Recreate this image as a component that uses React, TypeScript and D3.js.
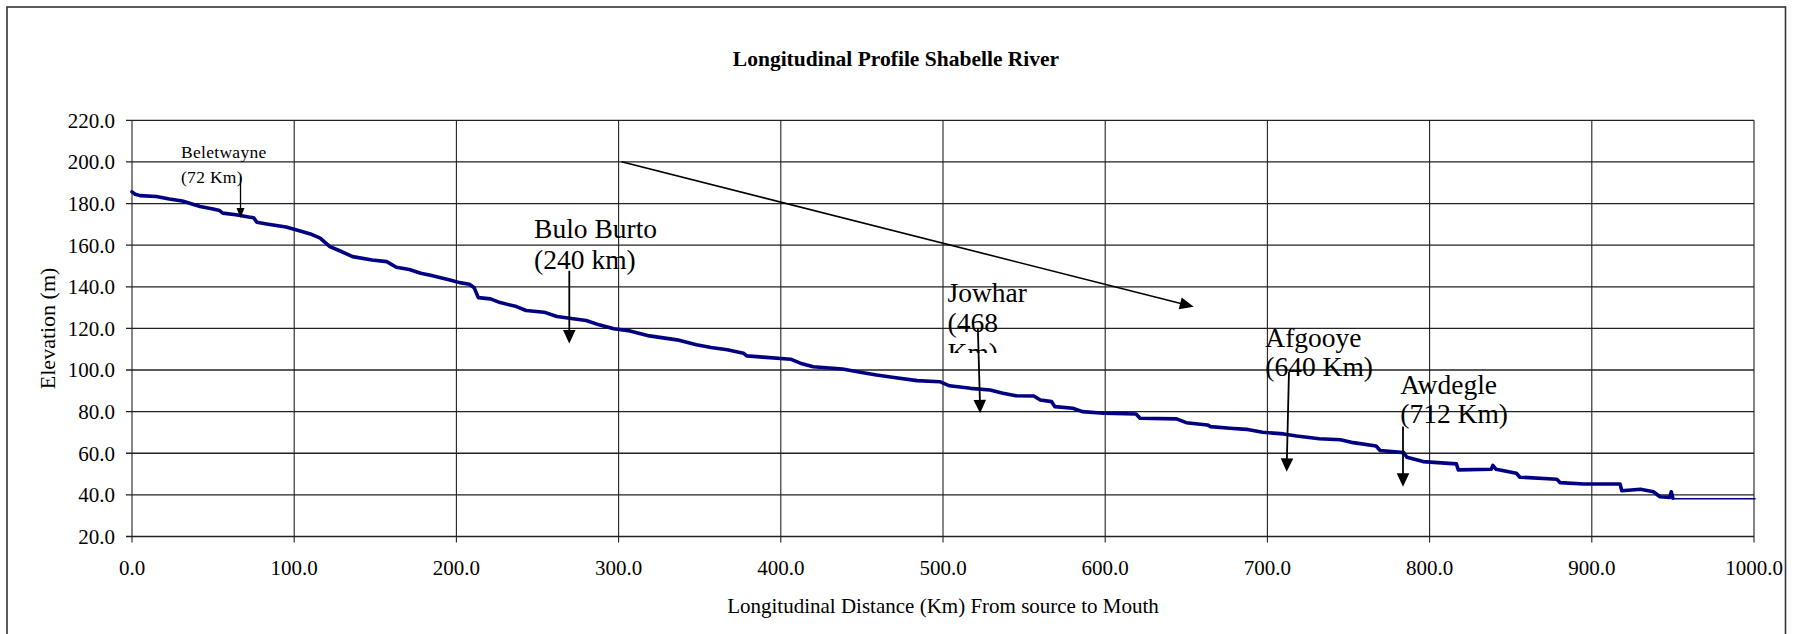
import React from "react";
import * as d3 from "d3";

// Longitudinal profile of the Shabelle River (km from source, elevation m)
const distanceKm = [
  0, 2, 5, 15, 23, 31, 36, 42, 50, 54, 56, 64, 72, 75, 77, 83, 95, 101, 110, 116,
  122, 128, 136, 148, 157, 163, 171, 178, 184, 196, 202, 208, 211, 213.5, 221, 227,
  237, 243, 254, 262, 272, 280, 288, 297, 307, 319, 336, 348, 357, 367, 377, 379,
  389, 406, 412, 420, 438, 449, 459, 471, 484, 498, 504, 517, 529, 537, 545, 556,
  560, 567, 569, 580, 586, 599, 619, 621.5, 644, 650, 663, 665, 677, 687, 697, 710,
  718, 732, 745, 753, 767, 769.5, 784, 786, 796, 816.5, 817.7, 838, 839, 841, 853.5,
  855.7, 878.4, 880.4, 895, 917.4, 918.5, 930, 938, 942, 948, 949, 950,
];
const elevationM = [
  185.6, 184.5, 183.8, 183.4, 182.2, 181.2, 180, 178.6, 177.4, 176.6, 175.4, 174.6,
  173.5, 173.2, 171, 170.2, 168.7, 167.4, 165.4, 163.4, 159.3, 157.3, 154.5, 152.9,
  152.1, 149.4, 148.3, 146.5, 145.5, 143.3, 142, 141.2, 139.5, 134.8, 134.2, 132.4,
  130.5, 128.6, 127.8, 125.7, 124.6, 123.8, 121.7, 119.8, 118.8, 116.4, 114.5, 112.1,
  110.8, 109.7, 108.1, 106.8, 106.2, 105.2, 103.3, 101.6, 100.5, 98.9, 97.6, 96.3,
  94.9, 94.4, 92.4, 91.2, 90.4, 88.8, 87.6, 87.5, 85.6, 84.8, 82.4, 81.6, 80, 79.2,
  78.9, 76.8, 76.5, 74.7, 73.6, 72.8, 72, 71.5, 70.1, 69.3, 68.3, 67, 66.5, 65.1,
  63.5, 61.3, 60.3, 58.1, 56, 54.9, 52, 52.3, 54.2, 52.3, 50.4, 48.5, 47.5, 45.9,
  45.2, 45.2, 42, 42.7, 41.5, 39.1, 38.8, 41.5, 38.4,
];
const tailDistanceKm = [950, 1001];
const tailElevationM = [38.2, 38.2];

const xTickValues = [0, 100, 200, 300, 400, 500, 600, 700, 800, 900, 1000];
const yTickValues = [20, 40, 60, 80, 100, 120, 140, 160, 180, 200, 220];

const chartTitle = "Longitudinal Profile Shabelle River";
const xAxisTitle = "Longitudinal Distance (Km) From source to Mouth";
const yAxisTitle = "Elevation (m)";

// Station labels (first-line anchor in data units)
const labelLines = [
  ["Beletwayne", "(72 Km)"],
  ["Bulo Burto", "(240 km)"],
  ["Jowhar", "(468", "Km)"],
  ["Afgooye", "(640 Km)"],
  ["Awdegle", "(712 Km)"],
];
const labelKm = [30.2, 247.9, 502.8, 698.7, 781.9];
const labelElev = [201.9, 163.4, 132.7, 111.1, 88.5];

// Station arrows (from -> to, data units)
const arrowFromKm = [66.9, 269.6, 521.5, 713.3, 783.6];
const arrowToKm = [66.9, 269.6, 522.9, 711.9, 783.6];
const arrowFromElev = [192.9, 147.7, 120.0, 99.2, 72.8];
const arrowToElev = [173.1, 112.8, 79.2, 51.1, 43.9];

// Trend arrow
const trendKm = [301.8, 654.6];
const trendElev = [200.1, 130.4];

const W = 1800;
const H = 634;
const FONT = "'Liberation Serif', 'Times New Roman', Times, serif";

function headPoints(x1: number, y1: number, x2: number, y2: number, len: number, half: number) {
  const a = Math.atan2(y2 - y1, x2 - x1);
  const bx = x2 - len * Math.cos(a);
  const by = y2 - len * Math.sin(a);
  const px = -Math.sin(a) * half;
  const py = Math.cos(a) * half;
  return `${x2},${y2} ${bx + px},${by + py} ${bx - px},${by - py}`;
}

export default function App() {
  const x = d3.scaleLinear().domain([0, 1000]).range([132, 1754]);
  const y = d3.scaleLinear().domain([20, 220]).range([536.5, 120.3]);
  const fmt = d3.format(".1f");
  const line = d3
    .line<[number, number]>()
    .x((d) => x(d[0]))
    .y((d) => y(d[1]));
  const profile: [number, number][] = distanceKm.map((d, i) => [d, elevationM[i]]);
  const tail: [number, number][] = tailDistanceKm.map((d, i) => [d, tailElevationM[i]]);

  const x0 = x(0);
  const x1 = x(1000);
  const yTop = y(220);
  const yBot = y(20);

  const labelSizes = [17.5, 27.5, 27.5, 27.5, 27.5];
  const labelGaps = [25, 31, 30, 29.5, 29];

  return (
    <>
      <style>{`body{margin:0;background:#fff}`}</style>
      <svg width={W} height={H} style={{ display: "block" }} fontFamily={FONT}>
        <rect x={0} y={0} width={W} height={H} fill="#fff" />
        <defs>
          <clipPath id="jowharClip">
            <rect x={930} y={260} width={120} height={93} />
          </clipPath>
        </defs>
        {/* outer frame */}
        <rect x={7} y={7} width={1778.5} height={H + 10} fill="none" stroke="#333" strokeWidth={1.6} />

        {/* title */}
        <text x={(x0 + x1) / 2 - 47} y={66} textAnchor="middle" fontSize={21.5} fontWeight="bold">
          {chartTitle}
        </text>

        {/* horizontal gridlines */}
        {yTickValues.map((v) => (
          <g key={"y" + v}>
            <line x1={x0 - 6} x2={x1} y1={y(v)} y2={y(v)} stroke="#222" strokeWidth={1.3} />
            <text x={115} y={y(v)} dy="0.35em" textAnchor="end" fontSize={21}>
              {fmt(v)}
            </text>
          </g>
        ))}
        {/* vertical gridlines */}
        {xTickValues.map((v) => (
          <g key={"x" + v}>
            <line x1={x(v)} x2={x(v)} y1={yTop} y2={yBot + 6} stroke="#222" strokeWidth={1.1} />
            <text x={x(v)} y={575} textAnchor="middle" fontSize={21}>
              {fmt(v)}
            </text>
          </g>
        ))}

        {/* axis titles */}
        <text x={(x0 + x1) / 2} y={613} textAnchor="middle" fontSize={21}>
          {xAxisTitle}
        </text>
        <text
          transform={`translate(55, ${(yTop + yBot) / 2}) rotate(-90)`}
          textAnchor="middle"
          fontSize={22}
        >
          {yAxisTitle}
        </text>

        {/* profile */}
        <path d={line(profile) || ""} fill="none" stroke="#000080" strokeWidth={3.6} strokeLinejoin="round" strokeLinecap="round" />
        <path d={line(tail) || ""} fill="none" stroke="#000080" strokeWidth={1.5} />

        {/* trend arrow */}
        {(() => {
          const ax1 = x(trendKm[0]);
          const ay1 = y(trendElev[0]);
          const ax2 = x(trendKm[1]);
          const ay2 = y(trendElev[1]);
          return (
            <g>
              <line x1={ax1} y1={ay1} x2={ax2 - 8} y2={ay2 - 2} stroke="#000" strokeWidth={1.6} />
              <polygon points={headPoints(ax1, ay1, ax2, ay2, 14, 6)} fill="#000" />
            </g>
          );
        })()}

        {/* station arrows */}
        {arrowFromKm.map((k, i) => {
          const ax1 = x(k);
          const ay1 = y(arrowFromElev[i]);
          const ax2 = x(arrowToKm[i]);
          const ay2 = y(arrowToElev[i]);
          const small = i === 0;
          return (
            <g key={"a" + i}>
              <line x1={ax1} y1={ay1} x2={ax2} y2={ay2 - 4} stroke="#000" strokeWidth={small ? 1.3 : 1.8} />
              <polygon points={headPoints(ax1, ay1, ax2, ay2, small ? 10 : 13.5, small ? 4 : 6.3)} fill="#000" />
            </g>
          );
        })}

        {/* station labels */}
        {labelLines.map((lines, i) => (
          <g key={"l" + i} clipPath={i === 2 ? "url(#jowharClip)" : undefined}>
            {lines.map((t, j) => (
              <text
                key={j}
                x={x(labelKm[i])}
                y={y(labelElev[i]) + j * labelGaps[i]}
                fontSize={labelSizes[i]}
                letterSpacing={i === 0 ? 0.3 : 0}
              >
                {t}
              </text>
            ))}
          </g>
        ))}
      </svg>
    </>
  );
}
